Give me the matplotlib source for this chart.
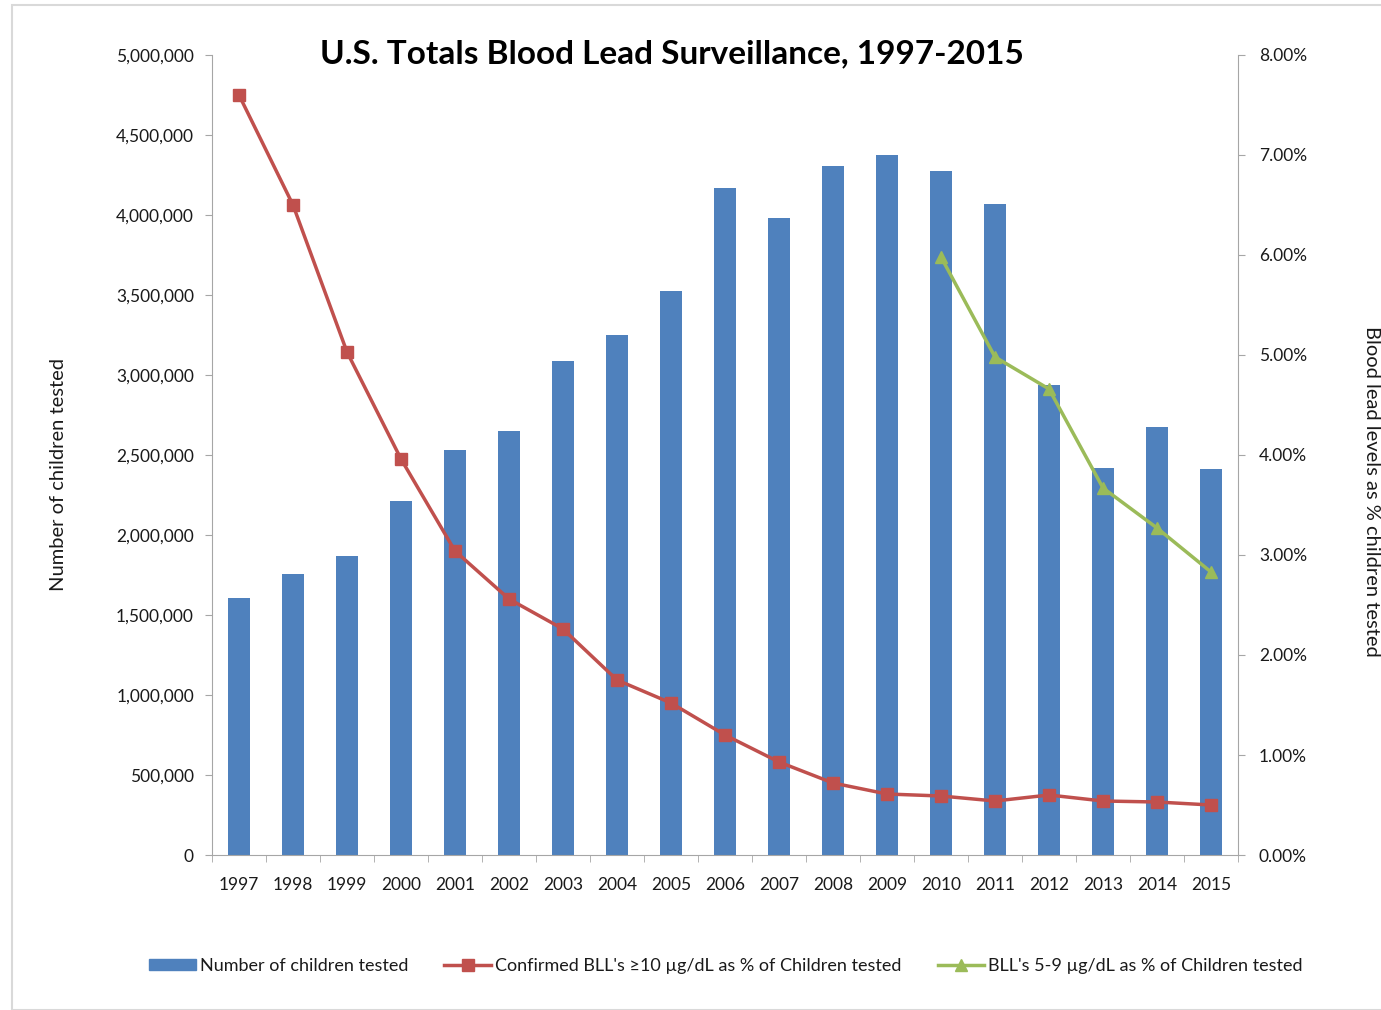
import matplotlib
matplotlib.use("Agg")
import matplotlib.pyplot as plt
from matplotlib.ticker import FuncFormatter, FixedLocator, MultipleLocator
from matplotlib.patches import Rectangle, Patch
from matplotlib.lines import Line2D
import numpy as np

plt.rcParams['font.family'] = ['Lato', 'DejaVu Sans']

years = [str(y) for y in range(1997, 2016)]
children_tested = [1606000, 1756000, 1869000, 2212000, 2531000, 2650000, 3087000,
                   3250000, 3525000, 4169000, 3981000, 4306000, 4375000, 4275000,
                   4069000, 2937000, 2419000, 2675000, 2412000]
pct_ge10 = [7.60, 6.50, 5.03, 3.96, 3.04, 2.56, 2.26, 1.75, 1.52, 1.20, 0.93,
            0.72, 0.61, 0.59, 0.54, 0.60, 0.54, 0.53, 0.50]
years_5_9 = ['2010', '2011', '2012', '2013', '2014', '2015']
pct_5_9 = [5.98, 4.98, 4.66, 3.67, 3.27, 2.83]

BLUE = '#4F81BD'
RED = '#C0504D'
GREEN = '#9BBB59'
GRAY = '#A6A6A6'
TXT = '#1a1a1a'

W, H = 1381, 1010
fig = plt.figure(figsize=(W / 100, H / 100), dpi=100)
fig.patches.append(Rectangle((12 / W, 0), 2, (H - 5) / H, transform=fig.transFigure,
                             fill=False, edgecolor='#D9D9D9', linewidth=1.5))

ax = fig.add_axes([212 / W, 1 - 855 / H, (1238 - 212) / W, (855 - 55) / H])
x = np.arange(len(years))
ax.bar(x, children_tested, width=0.42, color=BLUE, zorder=2)
ax.set_xlim(-0.5, len(years) - 0.5)
ax.set_ylim(0, 5000000)
ax.yaxis.set_major_locator(MultipleLocator(500000))
ax.yaxis.set_major_formatter(FuncFormatter(lambda v, p: f"{int(v):,}"))
ax.set_xticks(x)
ax.set_xticklabels(years)
ax.xaxis.set_minor_locator(FixedLocator(np.arange(-0.5, len(years), 1.0)))
ax.tick_params(axis='x', which='major', length=0, pad=16, labelsize=12.5, labelcolor=TXT)
ax.tick_params(axis='x', which='minor', length=5, color=GRAY)
ax.tick_params(axis='y', length=5, color=GRAY, labelsize=12.5, pad=8, labelcolor=TXT)
for s in ['top', 'right']:
    ax.spines[s].set_visible(False)
for s in ['left', 'bottom']:
    ax.spines[s].set_color(GRAY)
ax.set_ylabel('Number of children tested', fontsize=14.5, color=TXT)
ax.yaxis.set_label_coords(-0.141, 0.475)

ax2 = ax.twinx()
ax2.set_ylim(0, 8)
ax2.yaxis.set_major_locator(MultipleLocator(1))
ax2.yaxis.set_major_formatter(FuncFormatter(lambda v, p: f"{v:.2f}%"))
ax2.tick_params(axis='y', length=5, color=GRAY, labelsize=12.5, pad=10, labelcolor=TXT)
for s in ['top', 'left', 'bottom']:
    ax2.spines[s].set_visible(False)
ax2.spines['right'].set_color(GRAY)
ax2.plot(x, pct_ge10, color=RED, linewidth=2.5, marker='s', markersize=9, zorder=3)
x59 = [years.index(y) for y in years_5_9]
ax2.plot(x59, pct_5_9, color=GREEN, linewidth=2.5, marker='^', markersize=9, zorder=3)
ax2.set_ylabel('Blood lead levels as % children tested', fontsize=14.5, rotation=270,
               color=TXT)
ax2.yaxis.set_label_coords(1.138, 0.455)

fig.text(672 / W, 1 - 54 / H, 'U.S. Totals Blood Lead Surveillance, 1997-2015',
         ha='center', va='center', fontsize=24, fontweight='bold', color='black')

handles = [Patch(color=BLUE),
           Line2D([], [], color=RED, linewidth=2.5, marker='s', markersize=9),
           Line2D([], [], color=GREEN, linewidth=2.5, marker='^', markersize=9)]
labels = ['Number of children tested',
          "Confirmed BLL's \u226510 \u00b5g/dL as % of Children tested",
          "BLL's 5-9 \u00b5g/dL as % of Children tested"]
leg = fig.legend(handles, labels, loc='center', bbox_to_anchor=(726 / W, 1 - 966 / H),
                 ncol=3, frameon=False, fontsize=13, handlelength=2.6, handletextpad=0.2,
                 columnspacing=2.0, handleheight=0.5)
for t in leg.get_texts():
    t.set_color(TXT)

fig.savefig('out.png', dpi=100)
